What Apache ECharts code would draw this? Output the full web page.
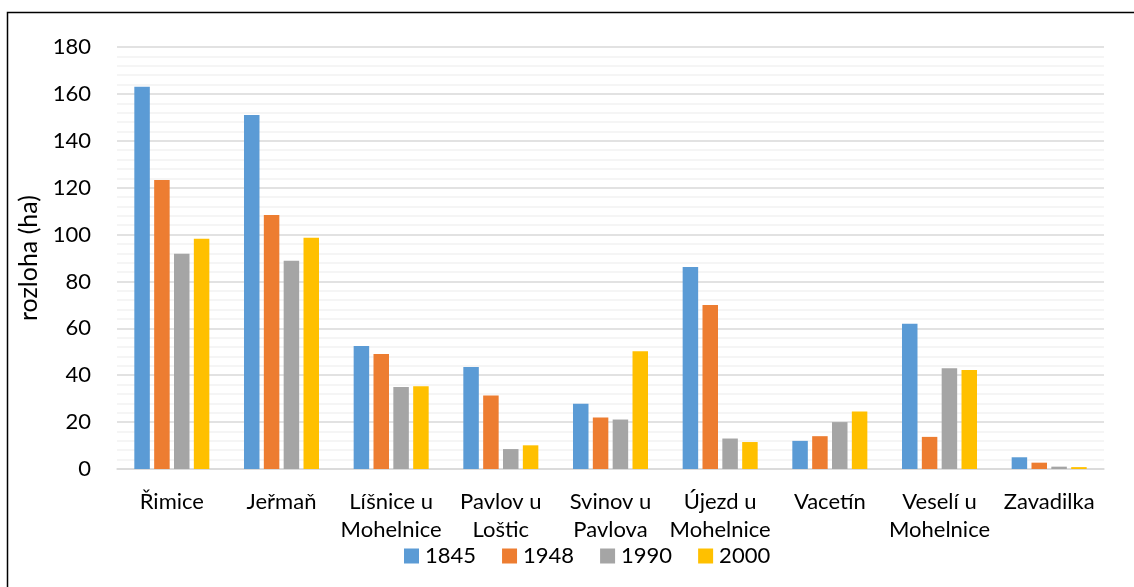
<!DOCTYPE html>
<html>
<head>
<meta charset="utf-8">
<script src="https://cdn.jsdelivr.net/npm/echarts@6/dist/echarts.min.js"></script>
<style>
  html, body { margin: 0; padding: 0; background: #fff; }
  #chart { width: 1134px; height: 587px; }
</style>
</head>
<body>
<div id="chart"></div>
<script>
const categories = ['Řimice', 'Jeřmaň', 'Líšnice u Mohelnice', 'Pavlov u Loštic', 'Svinov u Pavlova', 'Újezd u Mohelnice', 'Vacetín', 'Veselí u Mohelnice', 'Zavadilka'];
const seriesNames = ['1845', '1948', '1990', '2000'];
const values1845 = [163, 151, 52.5, 43.5, 27.8, 86.2, 12, 62, 5];
const values1948 = [123.3, 108.3, 49, 31.4, 22, 69.9, 14, 13.7, 2.7];
const values1990 = [91.8, 88.8, 35, 8.5, 21.1, 13, 20, 43, 1];
const values2000 = [98.2, 98.6, 35.3, 10.1, 50.2, 11.5, 24.5, 42.2, 0.8];
const yTicks = { min: 0, max: 180, interval: 20 };
const colors = ['#5b9bd5', '#ed7d31', '#a5a5a5', '#ffc000'];

const FONT = 'Lato';
const chart = echarts.init(document.getElementById('chart'), null, { renderer: 'canvas' });
const allValues = [values1845, values1948, values1990, values2000];

chart.setOption({
  animation: false,
  textStyle: { fontFamily: FONT, color: '#000' },
  grid: { left: 117, right: 30, top: 47, bottom: 118, containLabel: false },
  legend: {
    data: seriesNames,
    left: 399,
    top: 540,
    itemWidth: 15,
    itemHeight: 15,
    itemGap: 26,
    icon: 'rect',
    textStyle: { fontFamily: FONT, fontSize: 22, color: '#000', padding: [0, 0, 0, 1] }
  },
  graphic: [{
    type: 'rect',
    shape: { x: 7.5, y: 12.5, width: 1200, height: 700 },
    style: { fill: 'none', stroke: '#000', lineWidth: 1.5 },
    silent: true
  }],
  xAxis: {
    type: 'category',
    data: categories,
    axisLine: { show: true, lineStyle: { color: '#d9d9d9', width: 1.5 } },
    axisTick: { show: false },
    axisLabel: {
      fontFamily: FONT, fontSize: 22, color: '#000', margin: 19, lineHeight: 28,
      interval: 0,
      formatter: v => v.replace(' u ', ' u\n')
    },
    splitLine: { show: false }
  },
  yAxis: {
    type: 'value',
    min: yTicks.min, max: yTicks.max, interval: yTicks.interval,
    name: 'rozloha (ha)',
    nameLocation: 'middle',
    nameGap: 76,
    nameRotate: 90,
    nameTextStyle: { fontFamily: FONT, fontSize: 25, color: '#000' },
    axisLine: { show: false },
    axisTick: { show: false },
    axisLabel: { fontFamily: FONT, fontSize: 22, color: '#000', margin: 26 },
    splitLine: { show: true, lineStyle: { color: '#d9d9d9', width: 1.5 } },
    minorTick: { show: false, splitNumber: 5 },
    minorSplitLine: { show: true, lineStyle: { color: '#f2f2f2', width: 1.5 } }
  },
  series: seriesNames.map((name, i) => ({
    name: name,
    type: 'bar',
    data: allValues[i],
    barWidth: 15.5,
    barGap: '28%',
    itemStyle: { color: colors[i] }
  }))
});
</script>
</body>
</html>
